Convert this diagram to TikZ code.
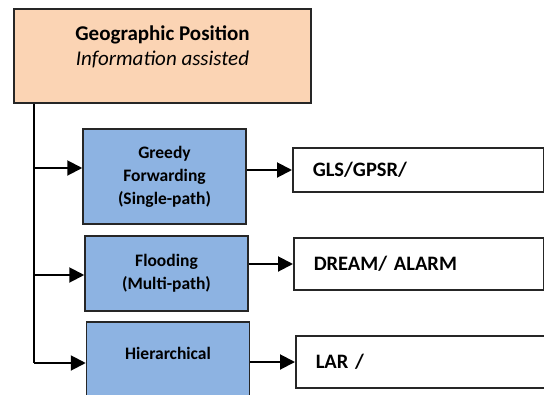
\documentclass[tikz,border=0pt]{standalone}
\usepackage{fontspec}
\setmainfont{Carlito}
\usetikzlibrary{arrows.meta}
\definecolor{peach}{HTML}{FBD4B4}
\definecolor{skyblue}{HTML}{8DB3E2}
\begin{document}
\begin{tikzpicture}[x=1pt,y=-1pt]

      \tikzset{topbox/.style={draw=black!85, fill=peach, line width=1.5pt, minimum width=297pt, minimum height=94pt},
               toptext/.style={align=center, font=\fontsize{21}{25}\selectfont},
               methodbox/.style={draw=black!85, fill=skyblue, line width=1.5pt, minimum width=163pt, align=center, font=\fontsize{17.5}{23}\selectfont\bfseries},
               protobox/.style={draw=black!85, fill=white, line width=1.5pt, anchor=west, inner xsep=20pt, text width=211pt, align=left, font=\fontsize{20.5}{24}\selectfont\bfseries},
               branch/.style={-{Triangle[length=15pt,width=15pt]}, line width=2pt}}
      \path[use as bounding box, clip] (0,0) rectangle (544,394);
%% Boxes
      	\node[topbox] (geo) at (162.5,56) {};
      	\node[toptext] (geotext) at (162.5,47) {\textbf{Geographic Position}\\ \textit{Information assisted}};
      	\node[methodbox, minimum height=95pt] (greedy) at (164.5,176.5) {Greedy\\ Forwarding\\ (Single-path)};
      	\node[methodbox, minimum height=75pt] (flooding) at (166.5,273.5) {Flooding\\ (Multi-path)};
      	\node[methodbox, anchor=base, text height=37pt, text depth=60pt, inner ysep=0pt] (hier) at (168,359) {Hierarchical};
      	\node[protobox, minimum height=44pt] (gls) at (292,170) {GLS/GPSR/};
      	\node[protobox, minimum height=52pt, text width=210pt] (dream) at (293,264) {DREAM/ ALARM};
      	\node[protobox, minimum height=52pt, text width=240pt] (lar) at (295,362) {LAR /};
%Trunk
      	\coordinate (b1) at (34,168);
      	\coordinate (b2) at (34,275);
      	\coordinate (b3) at (34,363);
		\draw[line width=2pt] (geo.south -| b3) -- (b3);
%Arrows
		\path[branch] (b1) edge (b1 -| greedy.west);
		\path[branch] (b2) edge (b2 -| flooding.west);
		\path[branch] (b3) edge (b3 -| hier.west);
		\path[branch] (greedy.east |- gls) edge (gls.west);
		\path[branch] (flooding.east |- dream) edge (dream.west);
		\path[branch] (hier.east |- lar) edge (lar.west);

\end{tikzpicture}
\end{document}
